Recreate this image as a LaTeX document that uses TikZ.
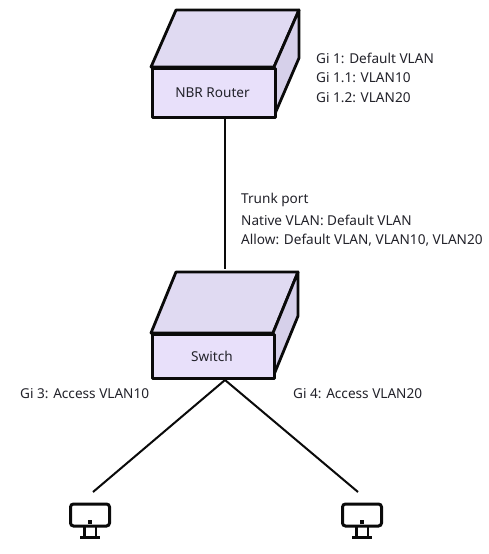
\documentclass[tikz,border=0pt]{standalone}
\usepackage{fontspec}
\setmainfont{Noto Sans}
\definecolor{frontc}{HTML}{E8E0FA}
\definecolor{topc}{HTML}{E0DAF2}
\definecolor{sidec}{HTML}{D6D0EA}
\definecolor{inkc}{HTML}{0A0A0A}
\definecolor{txtc}{HTML}{22222A}
\tikzset{
  edge3d/.style={draw=inkc,line width=2.8pt,line join=round},
  lab/.style={anchor=west,inner sep=0pt,text=txtc,font=\fontsize{13.6}{13.6}\selectfont},
  boxlab/.style={inner sep=0pt,text=txtc,font=\fontsize{13.6}{13.6}\selectfont},
  conn/.style={draw=inkc,line width=2pt},
  mon/.style={draw=inkc,line width=3pt},
}
\begin{document}
\begin{tikzpicture}[x=1pt,y=-1pt]
\useasboundingbox (0,0) rectangle (489,554);
\fill[white] (0,0) rectangle (489,554);
% router
\path[edge3d,fill=topc] (151,67) -- (176,10) -- (299,10) -- (274,67) -- cycle;
\path[edge3d,fill=sidec] (274,67) -- (299,10) -- (299,58) -- (274,116) -- cycle;
\node[edge3d,fill=frontc,minimum width=123pt,minimum height=49pt,inner sep=0pt,anchor=north west] (router) at (151,67) {};
\node[boxlab] (routerlab) at (212.5,92.5) {NBR Router};
% switch
\path[edge3d,fill=topc] (151,333) -- (176,272) -- (298,272) -- (273,333) -- cycle;
\path[edge3d,fill=sidec] (273,333) -- (298,272) -- (298,316) -- (273,377) -- cycle;
\node[edge3d,fill=frontc,minimum width=122pt,minimum height=44pt,inner sep=0pt,anchor=north west] (switch) at (151,333) {};
\node[boxlab] (switchlab) at (212,356.5) {Switch};
% connector ends
\coordinate (rout) at (225,119);
\coordinate (swin) at (225,269);
\coordinate (swout) at (225,380);
\coordinate (pc1in) at (93,492);
\coordinate (pc2in) at (358,492);
\draw[conn] (rout) -- (swin);
\draw[conn] (swout) -- (pc1in);
\draw[conn] (swout) -- (pc2in);
% labels
\node[lab] (g1) at (316,58) {Gi 1: Default VLAN};
\node[lab] (g2) at (316,78) {Gi 1.1: VLAN10};
\node[lab] (g3) at (316,98) {Gi 1.2: VLAN20};
\node[lab] (t1) at (241,200) {Trunk port};
\node[lab] (t2) at (241,220) {Native VLAN: Default VLAN};
\node[lab] (t3) at (241,240) {Allow: Default VLAN, VLAN10, VLAN20};
\node[lab] (a1) at (20,394) {Gi 3: Access VLAN10};
\node[lab] (a2) at (293,394) {Gi 4: Access VLAN20};
% monitors
\foreach \mx in {70,342}{
  \begin{scope}[shift={(\mx,0)}]
    \draw[mon,rounded corners=3pt] (0.5,504) rectangle (39.5,526);
    \fill[inkc] (18,520) rectangle (22,524);
    \fill[inkc] (13,527) rectangle (15.5,536);
    \fill[inkc] (24.5,527) rectangle (27,536);
    \fill[inkc] (10,535.5) rectangle (30,538.5);
  \end{scope}
}
\end{tikzpicture}
\end{document}
